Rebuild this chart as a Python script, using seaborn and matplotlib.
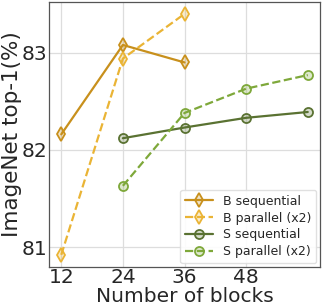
import matplotlib.pyplot as plt
import pandas as pd
import seaborn as sns
from matplotlib.colors import to_rgba

blocks_b = [12, 24, 36]
b_sequential = [82.16, 83.08, 82.90]
b_parallel = [80.92, 82.94, 83.40]

blocks_s = [24, 36, 48, 60]
s_sequential = [82.12, 82.23, 82.33, 82.39]
s_parallel = [81.63, 82.38, 82.63, 82.77]

x_ticks = [12, 24, 36, 48]
y_ticks = [81, 82, 83]

SERIES = [
    ("B sequential", blocks_b, b_sequential, "#c8901c", "d", "-"),
    ("B parallel (x2)", blocks_b, b_parallel, "#eab435", "d", "--"),
    ("S sequential", blocks_s, s_sequential, "#5a7232", "o", "-"),
    ("S parallel (x2)", blocks_s, s_parallel, "#7ea83a", "o", "--"),
]


def main() -> None:
    sns.set_theme(style="whitegrid")
    plt.rcParams["font.family"] = ["DejaVu Sans"]

    fig, ax = plt.subplots(figsize=(3.22, 3.06), dpi=100)

    for label, xs, ys, color, marker, ls in SERIES:
        df = pd.DataFrame({"blocks": xs, "acc": ys})
        sns.lineplot(
            data=df, x="blocks", y="acc", ax=ax, label=label,
            color=color, linestyle=ls, linewidth=1.6,
            marker=marker, markersize=7 if marker == "d" else 6.5,
            markerfacecolor=to_rgba(color, 0.25), markeredgecolor=color,
            markeredgewidth=1.3,
        )

    ax.set_xticks(x_ticks)
    ax.set_yticks(y_ticks)
    ax.tick_params(labelsize=14.5, pad=1, length=0)
    ax.set_xlabel("Number of blocks", fontsize=14.5, labelpad=0)
    ax.set_ylabel("ImageNet top-1(%)", fontsize=15.5, labelpad=0)
    ax.grid(color="#dddddd", linewidth=0.9)
    for spine in ax.spines.values():
        spine.set_color("#555555")
        spine.set_linewidth(0.9)

    ax.legend(loc="lower right", fontsize=9, frameon=True, framealpha=0.9,
              edgecolor="#dddddd", borderpad=0.4, labelspacing=0.3,
              handlelength=2.2, borderaxespad=0.3)

    fig.subplots_adjust(left=0.152, right=0.994, top=0.994, bottom=0.128)
    fig.savefig("out.png", dpi=100)


if __name__ == "__main__":
    main()
